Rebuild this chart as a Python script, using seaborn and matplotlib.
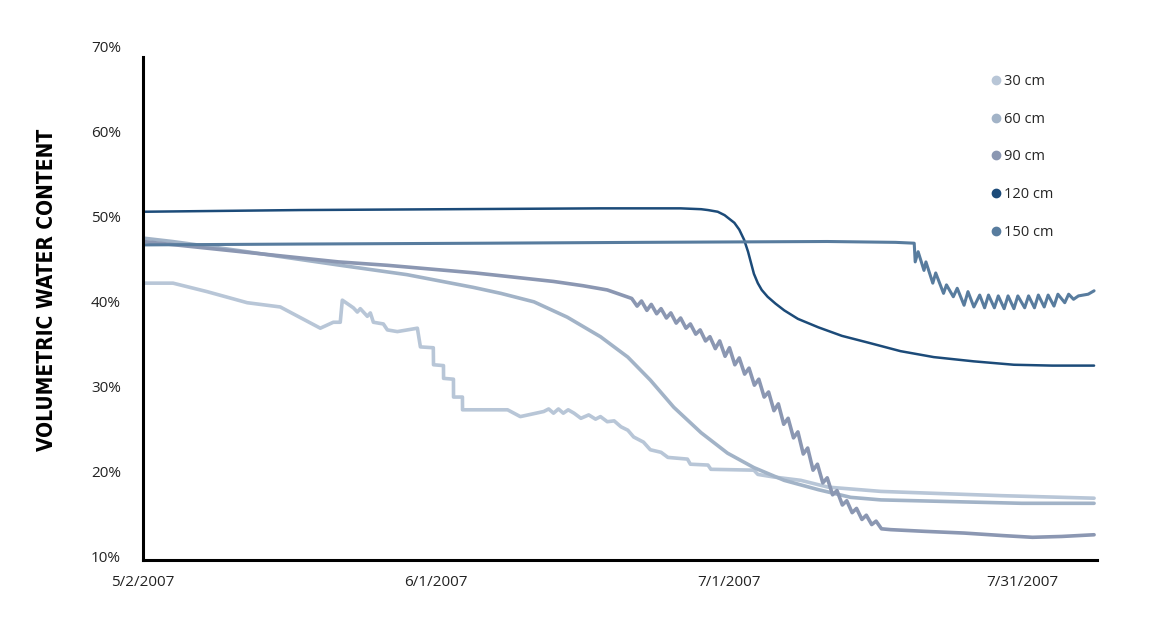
import pandas as pd
import matplotlib
matplotlib.use('Agg')
import matplotlib.pyplot as plt
from matplotlib.lines import Line2D
import seaborn as sns

# days after 5/2/2007, volumetric water content in %
days_30 = [0, 3.07, 6.56, 10.66, 14.04, 18.14, 19.47, 20.18, 20.39, 21.52, 21.93, 22.23,
           22.95, 23.26, 23.57, 24.59, 25.0, 26.02, 28.07, 28.38, 29.7, 29.72, 30.74, 30.75,
           31.76, 31.77, 32.68, 32.69, 37.3, 38.6, 41.0, 41.5, 42.0, 42.5, 43.0, 43.5, 44.1,
           44.8, 45.6, 46.3, 46.8, 47.5, 48.2, 48.9, 49.6, 50.2, 51.2, 51.9, 53.0, 53.7, 55.7,
           56.0, 57.8, 58.1, 62.5, 62.9, 64.5, 67.3, 70.1, 75.5, 80.3, 87.8, 97.3]
vwc_30 = [42.1, 42.1, 41.1, 39.8, 39.3, 36.8, 37.5, 37.5, 40.1, 39.2, 38.7, 39.1,
          38.2, 38.6, 37.5, 37.3, 36.6, 36.4, 36.8, 34.6, 34.5, 32.5, 32.4, 30.9,
          30.8, 28.7, 28.7, 27.2, 27.2, 26.4, 27.0, 27.3, 26.8, 27.3, 26.8, 27.2, 26.8,
          26.2, 26.6, 26.1, 26.4, 25.8, 25.9, 25.2, 24.8, 24.0, 23.4, 22.5, 22.2, 21.6, 21.4,
          20.8, 20.7, 20.2, 20.1, 19.6, 19.3, 18.9, 18.1, 17.6, 17.4, 17.1, 16.8]

days_60 = [0, 3, 10, 20.2, 27, 33.8, 36.6, 40.0, 43.4, 46.8, 49.6, 51.9, 54.3, 57.1, 59.8,
           62.5, 65.6, 69.1, 72.4, 75.5, 82.7, 89.9, 97.3]
vwc_60 = [47.4, 47.0, 45.9, 44.2, 43.1, 41.6, 40.9, 39.9, 38.1, 35.8, 33.4, 30.7, 27.5, 24.5,
          22.1, 20.4, 18.9, 17.8, 16.9, 16.6, 16.4, 16.2, 16.2]

days_90 = [0, 5, 10, 15, 20, 25, 30, 34, 38, 42, 45, 47.5, 49,
           50.0, 50.55, 51.0, 51.55, 52.0, 52.55, 53.0, 53.55, 54.0, 54.55, 55.0, 55.55,
           56.0, 56.55, 57.0, 57.55, 58.0, 58.55, 59.0, 59.55, 60.0, 60.55, 61.0, 61.55,
           62.0, 62.55, 63.0, 63.55, 64.0, 64.55, 65.0, 65.55, 66.0, 66.55, 67.0, 67.55,
           68.0, 68.55, 69.0, 69.55, 70.0, 70.55, 71.0, 71.55, 72.0, 72.55, 73.0, 73.55,
           74.0, 74.55, 75.0, 75.55, 76.5, 80, 84, 88, 91, 94, 97.3]
vwc_90 = [47.0, 46.4, 45.8, 45.2, 44.6, 44.2, 43.7, 43.3, 42.8, 42.3, 41.8, 41.3, 40.7,
          40.3, 39.4, 40.0, 38.9, 39.6, 38.5, 39.1, 38.0, 38.6, 37.4, 38.0, 36.8,
          37.3, 36.1, 36.6, 35.3, 35.8, 34.4, 35.3, 33.5, 34.5, 32.5, 33.3, 31.4,
          32.1, 30.1, 30.8, 28.7, 29.3, 27.1, 27.9, 25.5, 26.2, 23.9, 24.6, 22.0,
          22.7, 20.1, 20.8, 18.6, 19.2, 17.2, 17.7, 16.0, 16.5, 15.1, 15.6, 14.3,
          14.8, 13.7, 14.1, 13.2, 13.1, 12.9, 12.7, 12.4, 12.2, 12.3, 12.5]

days_120 = [0, 16.1, 31.5, 46.8, 55.0, 57.1, 57.8, 58.8, 59.5, 60.5, 61.0, 61.5, 61.9, 62.2,
            62.5, 62.9, 63.3, 63.9, 64.7, 65.6, 67.0, 69.1, 71.5, 74.2, 77.5, 80.9, 85.0,
            89.1, 93.0, 97.3]
vwc_120 = [50.5, 50.7, 50.8, 50.9, 50.9, 50.8, 50.7, 50.5, 50.1, 49.2, 48.4, 47.2, 45.8, 44.5,
           43.2, 42.1, 41.3, 40.5, 39.7, 38.9, 37.9, 36.9, 35.9, 35.1, 34.1, 33.4, 32.9,
           32.5, 32.4, 32.4]

days_150 = [0, 16, 35, 51, 70, 77, 78.9, 79.0, 79.3, 79.9, 80.1, 80.8, 81.1, 81.9, 82.2, 82.9,
            83.3, 84.0, 84.4, 85.0, 85.6, 86.1, 86.5, 87.1, 87.5, 88.1, 88.5, 89.1, 89.5,
            90.2, 90.6, 91.2, 91.6, 92.2, 92.6, 93.2, 93.6, 94.3, 94.7, 95.2, 95.7, 96.7, 97.3]
vwc_150 = [46.6, 46.7, 46.8, 46.9, 47.0, 46.9, 46.8, 44.6, 45.8, 43.6, 44.6, 42.1, 43.3, 40.9,
           41.9, 40.5, 41.5, 39.5, 41.1, 39.3, 40.7, 39.2, 40.7, 39.2, 40.6, 39.1, 40.6, 39.1,
           40.6, 39.2, 40.6, 39.2, 40.7, 39.3, 40.7, 39.4, 40.8, 39.8, 40.8, 40.2, 40.6, 40.8,
           41.2]

depths = ['30 cm', '60 cm', '90 cm', '120 cm', '150 cm']
colors = ['#b8c6d7', '#a2b3c7', '#8b97b2', '#1c4b79', '#587c9e']
widths = [2.6, 2.6, 2.6, 1.8, 2.2]

tick_dates = ['2007-05-02', '2007-06-01', '2007-07-01', '2007-07-31']
tick_labels = ['5/2/2007', '6/1/2007', '7/1/2007', '7/31/2007']
y_ticks = [10, 20, 30, 40, 50, 60, 70]

start = pd.Timestamp('2007-05-02')
series = {'30 cm': (days_30, vwc_30), '60 cm': (days_60, vwc_60), '90 cm': (days_90, vwc_90),
          '120 cm': (days_120, vwc_120), '150 cm': (days_150, vwc_150)}
frames = []
for name, (d, v) in series.items():
    frames.append(pd.DataFrame({'date': start + pd.to_timedelta(d, unit='D'),
                                'vwc': v, 'depth': name}))
df = pd.concat(frames, ignore_index=True)

sns.set_style('white')
plt.rcParams['font.family'] = ['Open Sans', 'DejaVu Sans']

fig = plt.figure(figsize=(11.55, 6.41), dpi=100)
ax = fig.add_axes([143 / 1155, 81 / 641, 954 / 1155, 514 / 641])

for name, color, lw in zip(depths, colors, widths):
    sns.lineplot(data=df[df['depth'] == name], x='date', y='vwc', color=color,
                 linewidth=lw, sort=False, estimator=None, ax=ax)

ax.set_xlim(start, start + pd.Timedelta(days=97.6))
ax.set_ylim(9.53, 70)
ax.set_xticks(pd.to_datetime(tick_dates))
ax.set_xticklabels(tick_labels)
ax.set_yticks(y_ticks)
ax.set_yticklabels([f'{t}%' for t in y_ticks])
ax.tick_params(length=0, labelsize=11, colors='#222222')
ax.tick_params(axis='x', pad=11)
ax.tick_params(axis='y', pad=16)
ax.set_xlabel('')
ax.set_ylabel('')

for side in ['top', 'right']:
    ax.spines[side].set_visible(False)
for side in ['left', 'bottom']:
    ax.spines[side].set_color('black')
    ax.spines[side].set_linewidth(2.2)
ax.spines['left'].set_bounds(9.53, 68.7)

fig.text(47 / 1155, 1 - 290 / 641, 'VOLUMETRIC WATER CONTENT', rotation=90,
         ha='center', va='center', fontsize=15, fontweight='bold', fontstretch='condensed',
         family=['DejaVu Sans'], color='black')

handles = [Line2D([], [], marker='o', linestyle='', color=c, markersize=6) for c in colors]
ax.legend(handles, depths, loc='upper left', bbox_to_anchor=(984 / 1155, 1 - 67 / 641),
          bbox_transform=fig.transFigure, frameon=False, fontsize=10.5,
          handlelength=0.6, handletextpad=0.3, labelspacing=1.55, borderpad=0)

fig.savefig('out.png', dpi=100)
